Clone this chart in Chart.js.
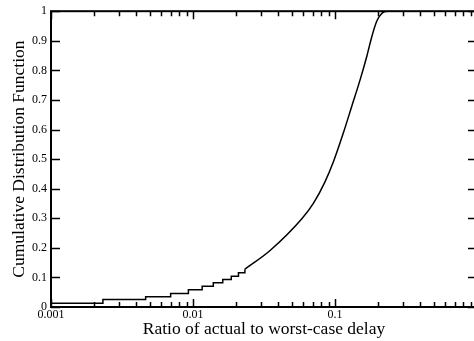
<!DOCTYPE html>
<html>
<head>
<meta charset="utf-8">
<script src="https://cdn.jsdelivr.net/npm/chart.js@4"></script>
<style>
  html, body { margin: 0; padding: 0; background: #fff; overflow: hidden; }
  #wrap { width: 474px; height: 341px; overflow: hidden; }
</style>
</head>
<body>
<div id="wrap"><canvas id="cdfChart" width="480" height="341"></canvas></div>
<script>
// step part of the CDF (discrete ratios)
const stepX = [0.001, 0.00232, 0.00464, 0.00696, 0.00928, 0.0116, 0.0139, 0.0162, 0.0186, 0.0209, 0.0232];
const stepY = [0.013, 0.025, 0.035, 0.046, 0.058, 0.070, 0.082, 0.093, 0.104, 0.116, 0.128];

// upper part, where the steps get too fine to see
const curveX = [0.0232, 0.0349, 0.0586, 0.0704, 0.085, 0.0973, 0.1144, 0.1311, 0.150, 0.1672, 0.1814, 0.1967, 0.2133, 0.225, 0.24, 1];
const curveY = [0.128, 0.191, 0.299, 0.350, 0.423, 0.490, 0.588, 0.678, 0.767, 0.846, 0.913, 0.966, 0.992, 0.999, 1.0, 1.0];

const xMajorTicks = [0.001, 0.01, 0.1, 1];
const xTickLabels = ['0.001', '0.01', '0.1', ''];
const xMinorSteps = [2, 3, 4, 5, 6, 7, 8, 9];
const yTicks = [0, 0.1, 0.2, 0.3, 0.4, 0.5, 0.6, 0.7, 0.8, 0.9, 1];
const yTickLabels = ['0', '0.1', '0.2', '0.3', '0.4', '0.5', '0.6', '0.7', '0.8', '0.9', '1'];

const serif = 'Liberation Serif, Times New Roman, serif';

// frame + inward ticks on all four sides
const frame = {
    id: 'frame',
    afterDatasetsDraw(chart) {
        const ctx = chart.ctx;
        const a = chart.chartArea;
        const x = chart.scales.x, y = chart.scales.y;
        ctx.save();
        ctx.strokeStyle = '#000';
        ctx.lineWidth = 1.5;
        ctx.beginPath();
        const tickX = (v, len) => {
            const px = Math.round(x.getPixelForValue(v)) + 0.5;
            ctx.moveTo(px, a.bottom); ctx.lineTo(px, a.bottom - len);
            ctx.moveTo(px, a.top); ctx.lineTo(px, a.top + len);
        };
        xMajorTicks.forEach((d, i) => {
            tickX(d, 8);
            if (i < xMajorTicks.length - 1) {
                xMinorSteps.forEach(m => tickX(d * m, 5));
            }
        });
        yTicks.forEach(v => {
            const py = Math.round(y.getPixelForValue(v)) + 0.5;
            ctx.moveTo(a.left, py); ctx.lineTo(a.left + 9, py);
            ctx.moveTo(a.right, py); ctx.lineTo(a.right - 9, py);
        });
        ctx.stroke();
        ctx.lineWidth = 2;
        ctx.strokeRect(a.left, a.top, a.right - a.left, a.bottom - a.top);
        ctx.restore();
    }
};

const stepPts = stepX.map((v, i) => ({x: v, y: stepY[i]}));
const curvePts = curveX.map((v, i) => ({x: v, y: curveY[i]}));

new Chart(document.getElementById('cdfChart'), {
    type: 'line',
    data: {
        datasets: [{
            data: stepPts,
            stepped: 'before',
            borderColor: '#000',
            borderWidth: 1.5,
            pointRadius: 0
        }, {
            data: curvePts,
            cubicInterpolationMode: 'monotone',
            borderColor: '#000',
            borderWidth: 1.5,
            pointRadius: 0
        }]
    },
    options: {
        responsive: false,
        animation: false,
        devicePixelRatio: 1,
        layout: { padding: { top: 9, right: 3, left: 0, bottom: 0 } },
        plugins: { legend: { display: false }, tooltip: { enabled: false } },
        scales: {
            x: {
                type: 'logarithmic',
                min: 0.001,
                max: 1,
                grid: { display: false, drawTicks: false },
                border: { display: false },
                afterBuildTicks: s => { s.ticks = xMajorTicks.map(v => ({value: v})); },
                afterFit: s => { s.height = 34; },
                ticks: {
                    padding: 1,
                    maxRotation: 0,
                    autoSkip: false,
                    color: '#000',
                    font: { family: serif, size: 12 },
                    callback: (v) => {
                        const i = xMajorTicks.indexOf(v);
                        return i >= 0 ? xTickLabels[i] : '';
                    }
                },
                title: {
                    display: true,
                    text: 'Ratio of actual to worst-case delay',
                    color: '#000',
                    font: { family: serif, size: 17.5 },
                    padding: { top: 0, bottom: 1 }
                }
            },
            y: {
                min: 0,
                max: 1,
                grid: { display: false, drawTicks: false },
                border: { display: false },
                afterBuildTicks: s => { s.ticks = yTicks.map(v => ({value: v})); },
                afterFit: s => { s.width = 51; },
                ticks: {
                    padding: 4,
                    color: '#000',
                    font: { family: serif, size: 12 },
                    callback: (v) => {
                        const i = yTicks.indexOf(v);
                        return i >= 0 ? yTickLabels[i] : '';
                    }
                },
                title: {
                    display: true,
                    text: 'Cumulative Distribution Function',
                    color: '#000',
                    font: { family: serif, size: 17.5 },
                    padding: { top: 9, bottom: 0 }
                }
            }
        }
    },
    plugins: [frame]
});
</script>
</body>
</html>
